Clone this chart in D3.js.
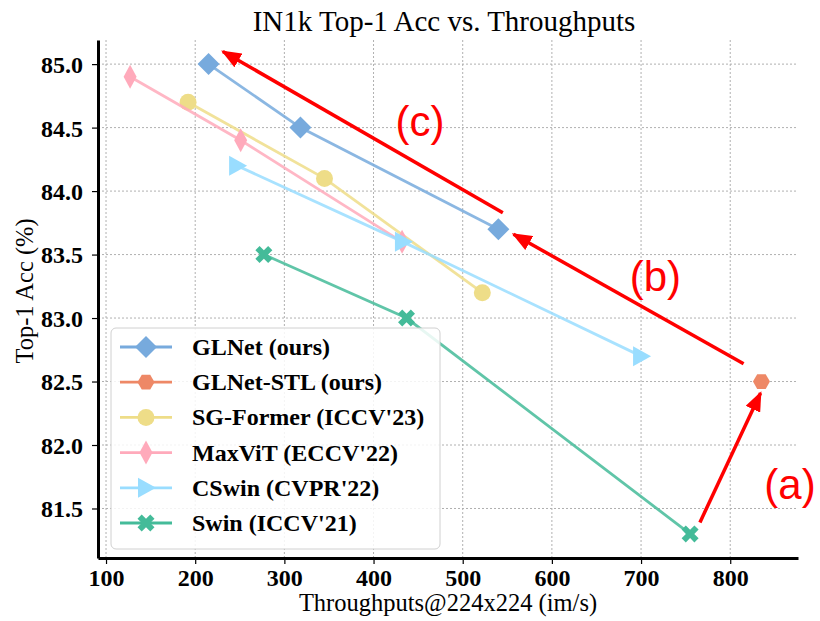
<!DOCTYPE html>
<html>
<head>
<meta charset="utf-8">
<script src="https://cdn.jsdelivr.net/npm/d3@7"></script>
<style>
  body { margin: 0; background: #fff; }
  svg { display: block; }
  .tick text { font-family: "Liberation Serif", "Times New Roman", serif; font-weight: bold; font-size: 24px; fill: #000; }
</style>
</head>
<body>
<svg id="chart" width="820" height="621"></svg>
<script>
  // data
  var xTicks = [100, 200, 300, 400, 500, 600, 700, 800];
  var yTicks = [81.5, 82.0, 82.5, 83.0, 83.5, 84.0, 84.5, 85.0];

  var glnet    = [[215, 85.0], [318, 84.5], [540, 83.7]];
  var glnetStl = [[835, 82.5]];
  var sgFormer = [[192, 84.7], [345, 84.1], [522, 83.2]];
  var maxvit   = [[127, 84.9], [251, 84.4], [432, 83.6]];
  var cswin    = [[247, 84.2], [433, 83.6], [700, 82.7]];
  var swin     = [[277, 83.5], [437, 83.0], [755, 81.3]];

  var seriesNames = ['GLNet (ours)', 'GLNet-STL (ours)', 'SG-Former (ICCV\'23)', 'MaxViT (ECCV\'22)', 'CSwin (CVPR\'22)', 'Swin (ICCV\'21)'];
  var seriesData = [glnet, glnetStl, sgFormer, maxvit, cswin, swin];
  var seriesColors = ['#77AADD', '#EE8866', '#EEDD88', '#FFAABB', '#99DDFF', '#44BB99'];
  var seriesMarkers = ['D', 'h', 'o', 'd', '>', 'X'];

  // red annotation arrows: [x0, y0, x1, y1] in data units, and label positions
  var arrows = [[766, 81.39, 834, 82.41], [815, 82.64, 557, 83.66], [545, 83.83, 231, 85.10]];
  var arrowLabels = [['(a)', 867, 81.69], ['(b)', 716, 83.33], ['(c)', 452, 84.55]];

(function () {
  var svg = d3.select('#chart');
  var serif = '"Liberation Serif", "Times New Roman", serif';

  var mLeft = 98, mRight = 798, mTop = 40, mBottom = 558;

  var x = d3.scaleLinear().domain([91, 876]).range([mLeft, mRight]);
  var y = d3.scaleLinear().domain([81.11, 85.19]).range([mBottom, mTop]);

  // grid
  var grid = svg.append('g').attr('class', 'grid');
  grid.selectAll('line.v').data(xTicks).enter().append('line')
    .attr('x1', function(d) { return x(d); }).attr('x2', function(d) { return x(d); })
    .attr('y1', mTop).attr('y2', mBottom)
    .attr('stroke', '#b0b0b0').attr('stroke-width', 1).attr('stroke-dasharray', '2,2');
  grid.selectAll('line.h').data(yTicks).enter().append('line')
    .attr('y1', function(d) { return y(d); }).attr('y2', function(d) { return y(d); })
    .attr('x1', mLeft).attr('x2', mRight)
    .attr('stroke', '#b0b0b0').attr('stroke-width', 1).attr('stroke-dasharray', '2,2');

  // marker shapes
  function markerPath(type) {
    switch (type) {
      case 'D': return 'M0,-11L11,0L0,11L-11,0Z';
      case 'd': return 'M0,-12L6.5,0L0,12L-6.5,0Z';
      case 'o': return 'M8.5,0A8.5,8.5 0 1,1 -8.5,0A8.5,8.5 0 1,1 8.5,0Z';
      case '>': return 'M10,0L-8,-10L-8,10Z';
      case 'h': {
        var p = [];
        for (var i = 0; i < 6; i++) {
          var a = i * Math.PI / 3;
          p.push([8.5 * Math.cos(a), 8.5 * Math.sin(a)]);
        }
        return 'M' + p.join('L') + 'Z';
      }
      case 'X': {
        var w = 4.2, s = 8.5;
        return 'M' + [[-s + w, -s], [0, -w], [s - w, -s], [s, -s + w], [w, 0], [s, s - w],
          [s - w, s], [0, w], [-s + w, s], [-s, s - w], [-w, 0], [-s, -s + w]].join('L') + 'Z';
      }
    }
  }

  var line = d3.line().x(function(d) { return x(d[0]); }).y(function(d) { return y(d[1]); });

  // series lines then markers
  seriesData.forEach(function(data, i) {
    var g = svg.append('g').attr('class', 'series');
    g.append('path').datum(data)
      .attr('d', line)
      .attr('fill', 'none')
      .attr('stroke', seriesColors[i])
      .attr('stroke-width', 2.8)
      .attr('stroke-opacity', 0.85);
    g.selectAll('path.mk').data(data).enter().append('path')
      .attr('class', 'mk')
      .attr('transform', function(d) { return 'translate(' + x(d[0]) + ',' + y(d[1]) + ')'; })
      .attr('d', markerPath(seriesMarkers[i]))
      .attr('fill', seriesColors[i]);
  });

  // axes
  var xAxis = svg.append('g')
    .attr('transform', 'translate(0,' + mBottom + ')')
    .call(d3.axisBottom(x).tickValues(xTicks).tickSize(6).tickSizeOuter(0).tickPadding(5));
  var yAxis = svg.append('g')
    .attr('transform', 'translate(' + mLeft + ',0)')
    .call(d3.axisLeft(y).tickValues(yTicks).tickFormat(d3.format('.1f')).tickSize(6).tickSizeOuter(0).tickPadding(9));
  [xAxis, yAxis].forEach(function(a) {
    a.select('.domain').attr('stroke', '#000').attr('stroke-width', 3);
    a.selectAll('.tick line').attr('stroke', '#000').attr('stroke-width', 1.2);
  });
  yAxis.selectAll('.tick text').attr('dy', '0.35em');

  // title and axis labels
  svg.append('text')
    .attr('x', (mLeft + mRight) / 2 - 4).attr('y', 31)
    .attr('text-anchor', 'middle')
    .style('font-family', serif).style('font-size', '29px')
    .text('IN1k Top-1 Acc vs. Throughputs');

  svg.append('text')
    .attr('x', (mLeft + mRight) / 2).attr('y', 611)
    .attr('text-anchor', 'middle')
    .style('font-family', serif).style('font-size', '24.5px')
    .text('Throughputs@224x224 (im/s)');

  svg.append('text')
    .attr('transform', 'translate(33,' + ((mTop + mBottom) / 2 - 8) + ') rotate(-90)')
    .attr('text-anchor', 'middle')
    .style('font-family', serif).style('font-size', '24.5px')
    .text('Top-1 Acc (%)');

  // arrows
  svg.append('defs').append('marker')
    .attr('id', 'arrowhead')
    .attr('markerUnits', 'userSpaceOnUse')
    .attr('viewBox', '0 0 20 16')
    .attr('refX', 18).attr('refY', 8)
    .attr('markerWidth', 20).attr('markerHeight', 16)
    .attr('orient', 'auto')
    .append('path').attr('d', 'M0,0L20,8L0,16Z').attr('fill', '#ff0000');

  svg.selectAll('line.arrow').data(arrows).enter().append('line')
    .attr('class', 'arrow')
    .attr('x1', function(d) { return x(d[0]); }).attr('y1', function(d) { return y(d[1]); })
    .attr('x2', function(d) { return x(d[2]); }).attr('y2', function(d) { return y(d[3]); })
    .attr('stroke', '#ff0000').attr('stroke-width', 3.5)
    .attr('marker-end', 'url(#arrowhead)');

  svg.selectAll('text.alabel').data(arrowLabels).enter().append('text')
    .attr('class', 'alabel')
    .attr('x', function(d) { return x(d[1]); }).attr('y', function(d) { return y(d[2]); })
    .attr('dy', '0.35em')
    .attr('text-anchor', 'middle')
    .style('font-family', '"Liberation Sans", Arial, sans-serif').style('font-size', '42px')
    .attr('fill', '#ff0000')
    .text(function(d) { return d[0]; });

  // legend
  var legend = svg.append('g').attr('class', 'legend');
  legend.append('rect')
    .attr('x', 111).attr('y', 328).attr('width', 329).attr('height', 221).attr('rx', 5)
    .attr('fill', '#fff').attr('fill-opacity', 0.85)
    .attr('stroke', '#d0d0d0').attr('stroke-width', 1);

  var rows = legend.selectAll('g.row').data(seriesNames).enter().append('g')
    .attr('class', 'row')
    .attr('transform', function(d, i) { return 'translate(0,' + (347 + i * 35.2) + ')'; });
  rows.append('line')
    .attr('x1', 120).attr('x2', 172).attr('y1', 0).attr('y2', 0)
    .attr('stroke', function(d, i) { return seriesColors[i]; }).attr('stroke-width', 2.8);
  rows.append('path')
    .attr('transform', 'translate(146,0)')
    .attr('d', function(d, i) { return markerPath(seriesMarkers[i]); })
    .attr('fill', function(d, i) { return seriesColors[i]; });
  rows.append('text')
    .attr('x', 192).attr('y', 0).attr('dy', '0.33em')
    .style('font-family', serif).style('font-weight', 'bold').style('font-size', '24px')
    .text(function(d) { return d; });
})();
</script>
</body>
</html>
